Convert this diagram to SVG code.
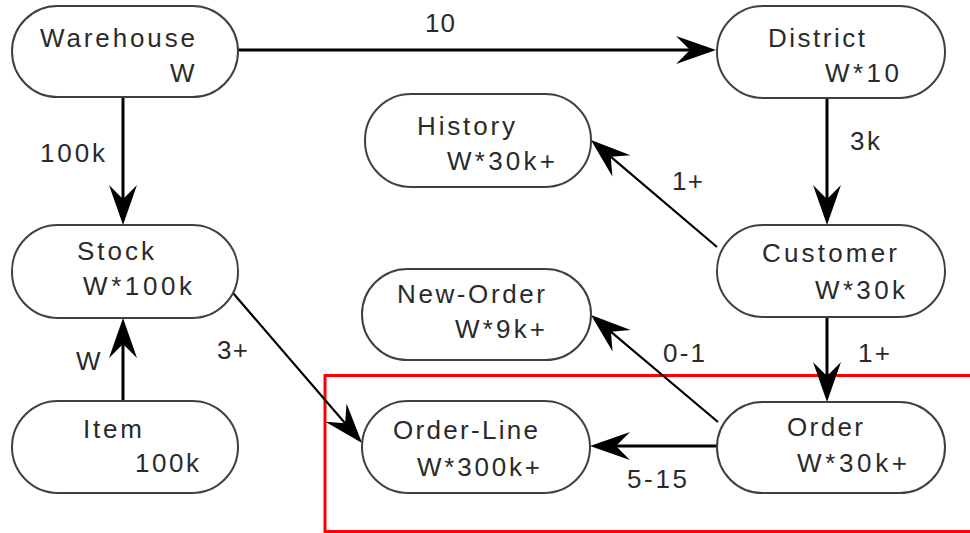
<svg xmlns="http://www.w3.org/2000/svg" width="970" height="533" viewBox="0 0 970 533">
<style>
.node rect{fill:#fff;stroke:#404040;stroke-width:2}
text{font-family:"Liberation Sans",Arial,sans-serif;font-size:26px;fill:#2a2a2a}
.conn{stroke:#000;stroke-width:3;fill:none}
.diag{stroke:#000;stroke-width:2.2;fill:none}
</style>
<defs>
<marker id="arr" viewBox="-60 -16 64 32" refX="-20" refY="0" markerWidth="64" markerHeight="32" markerUnits="userSpaceOnUse" orient="auto">
<path d="M0,0 L-40,-14 L-26,0 L-40,14 Z" fill="#000"/>
</marker>
</defs>
<rect x="325" y="375.5" width="700" height="156" fill="none" stroke="#ff0000" stroke-width="3"/>
<g id="connectors">
<path class="conn" d="M238,50 L696,50" marker-end="url(#arr)"/>
<path class="conn" d="M123,97 L123,205" marker-end="url(#arr)"/>
<path class="conn" d="M123,401 L123,338" marker-end="url(#arr)"/>
<path class="conn" d="M827,98 L827,205" marker-end="url(#arr)"/>
<path class="conn" d="M827,317 L827,382" marker-end="url(#arr)"/>
<path class="diag" d="M717,247 L606.2,152.9" marker-end="url(#arr)"/>
<path class="diag" d="M718,422 L606.3,327.9" marker-end="url(#arr)"/>
<path class="conn" d="M717,446 L610,446" marker-end="url(#arr)"/>
<path class="diag" d="M233,293 L349,427.8" marker-end="url(#arr)"/>
<text x="425" y="32" textLength="30">10</text>
<text x="40" y="162" textLength="65">100k</text>
<text x="850" y="150" textLength="30">3k</text>
<text x="672" y="190" textLength="31">1+</text>
<text x="858" y="362" textLength="32">1+</text>
<text x="663" y="362" textLength="42">0-1</text>
<text x="217" y="359" textLength="31">3+</text>
<text x="76" y="370" textLength="24">W</text>
<text x="627" y="488" textLength="60">5-15</text>
</g>
<g id="warehouse" class="node">
<rect x="12" y="6" width="226" height="91" rx="45.5"/>
<text x="40" y="47" textLength="155">Warehouse</text>
<text x="170" y="82" textLength="24">W</text>
</g>
<g id="district" class="node">
<rect x="717" y="6" width="228" height="92" rx="46"/>
<text x="768" y="47" textLength="97">District</text>
<text x="825" y="82" textLength="74">W*10</text>
</g>
<g id="history" class="node">
<rect x="365" y="94" width="226" height="93" rx="46"/>
<text x="417" y="135" textLength="98">History</text>
<text x="447" y="170" textLength="108">W*30k+</text>
</g>
<g id="stock" class="node">
<rect x="12" y="225" width="226" height="93" rx="46"/>
<text x="77" y="260" textLength="77">Stock</text>
<text x="83" y="295" textLength="109">W*100k</text>
</g>
<g id="customer" class="node">
<rect x="717" y="225" width="228" height="92" rx="46"/>
<text x="762" y="262" textLength="135">Customer</text>
<text x="815" y="299" textLength="90">W*30k</text>
</g>
<g id="new-order" class="node">
<rect x="362" y="269" width="229" height="91" rx="45.5"/>
<text x="397" y="303" textLength="148">New-Order</text>
<text x="455" y="338" textLength="90">W*9k+</text>
</g>
<g id="item" class="node">
<rect x="12" y="401" width="226" height="92" rx="46"/>
<text x="83" y="438" textLength="59">Item</text>
<text x="135" y="472" textLength="64">100k</text>
</g>
<g id="order-line" class="node">
<rect x="362" y="401" width="228" height="92" rx="46"/>
<text x="393" y="439" textLength="145">Order-Line</text>
<text x="417" y="476" textLength="123">W*300k+</text>
</g>
<g id="order" class="node">
<rect x="717" y="402" width="228" height="91" rx="45.5"/>
<text x="787" y="436" textLength="76">Order</text>
<text x="797" y="472" textLength="110">W*30k+</text>
</g>
</svg>
